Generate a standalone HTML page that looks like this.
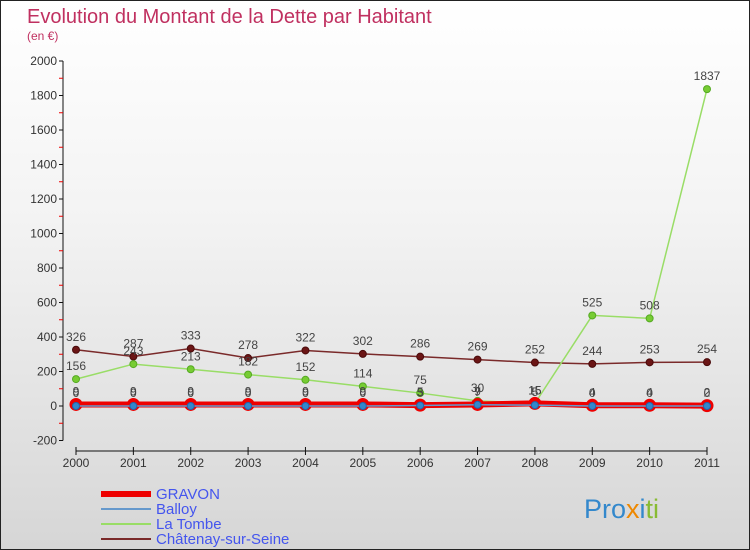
<!DOCTYPE html>
<html><head><meta charset="utf-8"><style>
body{margin:0;}
#c{width:750px;height:550px;position:relative;overflow:hidden;box-sizing:border-box;border:1px solid #222;background:linear-gradient(#fff 0%,#f3f3f3 40%,#d6d6d6 100%);font-family:"Liberation Sans",sans-serif;}
svg text{font-family:"Liberation Sans",sans-serif;}
</style></head><body>
<div id="c">
<svg id="s" width="750" height="550">
<text x="26" y="22" font-size="20" fill="#c03060">Evolution du Montant de la Dette par Habitant</text>
<text x="26" y="39" font-size="12" fill="#c03060">(en €)</text>
<g id="axes"></g><g id="series"></g>
<g>
<line x1="100" y1="493" x2="150" y2="493" stroke="#e00" stroke-width="6"/>
<text x="155" y="498" font-size="15" fill="#4455ee">GRAVON</text>
<line x1="100" y1="508" x2="150" y2="508" stroke="#6699cc" stroke-width="2"/>
<text x="155" y="513" font-size="15" fill="#4455ee">Balloy</text>
<line x1="100" y1="523" x2="150" y2="523" stroke="#99dd66" stroke-width="2"/>
<text x="155" y="528" font-size="15" fill="#4455ee">La Tombe</text>
<line x1="100" y1="538" x2="150" y2="538" stroke="#7a2a2a" stroke-width="2"/>
<text x="155" y="543" font-size="15" fill="#4455ee">Châtenay-sur-Seine</text>
</g>
<text x="583" y="517" font-size="27"><tspan fill="#3388cc">Pro</tspan><tspan fill="#ee8800">x</tspan><tspan fill="#3388cc">i</tspan><tspan fill="#88bb33">ti</tspan></text>
</svg></div>
<script>
const years=["2000","2001","2002","2003","2004","2005","2006","2007","2008","2009","2010","2011"];
const yTicks=[-200,0,200,400,600,800,1000,1200,1400,1600,1800,2000];
const gravon=[9,9,9,9,9,9,5,9,15,4,4,2];
const balloy=[0,0,0,0,0,0,3,7,5,0,0,0];
const laTombe=[156,243,213,182,152,114,75,30,15,525,508,1837];
const chatenay=[326,287,333,278,322,302,286,269,252,244,253,254];
const NS="http://www.w3.org/2000/svg";
const X=i=>75+i*(706-75)/11;
const Y=v=>405-v*(345/2000);
function mk(t,a,p){const e=document.createElementNS(NS,t);for(const k in a)e.setAttribute(k,a[k]);p.appendChild(e);return e;}
const ax=document.getElementById('axes'),sr=document.getElementById('series');
let l=mk('line',{x1:62,y1:Y(2000),x2:62,y2:Y(-200),stroke:'#111'},ax);


yTicks.forEach(v=>{
 mk('line',{x1:58,y1:Y(v),x2:62,y2:Y(v),stroke:'#111'},ax);
 if(v<2000) mk('line',{x1:58,y1:Y(v+100),x2:62,y2:Y(v+100),stroke:'#e00'},ax);
 const t=mk('text',{x:56,y:Y(v)+4,'font-size':12,'text-anchor':'end',fill:'#333'},ax);t.textContent=v;
 
 
});
l=mk('line',{x1:75,y1:450,x2:706,y2:450,stroke:'#111'},ax);


years.forEach((y,i)=>{
 mk('line',{x1:X(i),y1:446,x2:X(i),y2:454,stroke:'#111'},ax);
 const t=mk('text',{x:X(i),y:466,'font-size':12,'text-anchor':'middle',fill:'#333'},ax);t.textContent=y;
 
 
});
function series(d,name,col,w,r,fill,stroke,sw){
 const g=mk('g',{},sr);
 
 
 mk('polyline',{points:d.map((v,i)=>X(i)+','+Y(v)).join(' '),fill:'none',stroke:col,'stroke-width':w},g);
 d.forEach((v,i)=>{
  const c=mk('circle',{cx:X(i),cy:Y(v),r:r,fill:fill,stroke:stroke,'stroke-width':sw},g);
  
  
  const t=mk('text',{x:X(i),y:Y(v)-9,'font-size':12,'text-anchor':'middle',fill:'#444'},g);t.textContent=v;
 });
}
series(chatenay,'chatenay-series','#7a2a2a',1.5,3.5,'#6b1515','#4a0a0a',1);
series(laTombe,'la-tombe-series','#99dd66',1.5,3.5,'#77cc33','#55aa22',1);
series(gravon,'gravon-series','#ee0000',6,6,'#ee0000','#ee0000',1);
series(balloy,'balloy-series','#6699cc',1.5,3.5,'#3388cc','#2266aa',1);
</script>
</body></html>
